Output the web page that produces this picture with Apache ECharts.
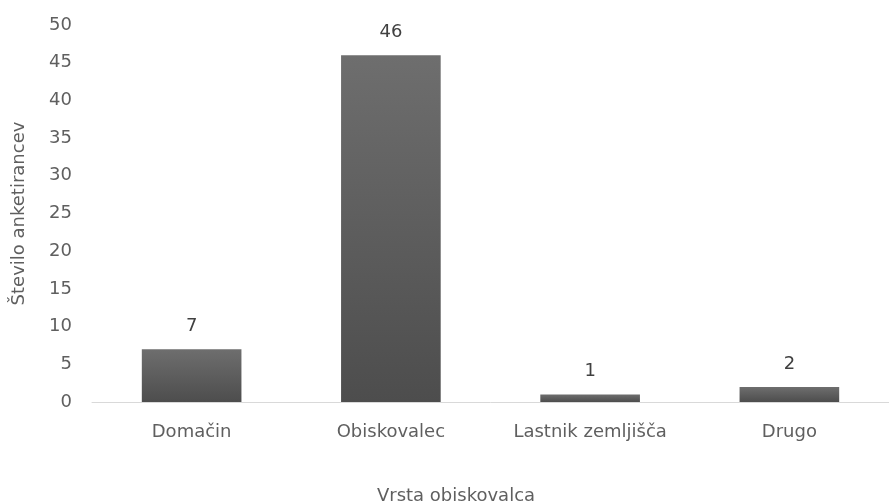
<!DOCTYPE html>
<html>
<head>
<meta charset="utf-8">
<script src="https://cdn.jsdelivr.net/npm/echarts@6/dist/echarts.min.js"></script>
<style>html,body{margin:0;padding:0;background:#fff}#c{width:889px;height:504px}</style>
</head>
<body>
<div id="c"></div>
<script>
const categories = ['Domačin', 'Obiskovalec', 'Lastnik zemljišča', 'Drugo'];
const values = [7, 46, 1, 2];
const yTicks = { min: 0, max: 50, interval: 5 };
const yTitle = 'Število anketirancev';
const xTitle = 'Vrsta obiskovalca';

const chart = echarts.init(document.getElementById('c'));
const font = '"DejaVu Sans", sans-serif';
const fs = 18;
chart.setOption({
  animation: false,
  backgroundColor: '#ffffff',
  title: {
    text: xTitle,
    left: 451, top: 482,
    textAlign: 'center',
    textStyle: { fontFamily: font, fontSize: fs, fontWeight: 'normal', color: '#5f5f5f' }
  },
  grid: { left: 92, right: -7, top: 25, bottom: 102 },
  xAxis: {
    type: 'category',
    data: categories,
    axisLine: { lineStyle: { color: '#d9d9d9', width: 1 } },
    axisTick: { show: false },
    axisLabel: { interval: 0, hideOverlap: false, margin: 21, fontFamily: font, fontSize: fs, color: '#5f5f5f' }
  },
  yAxis: {
    type: 'value',
    min: yTicks.min, max: yTicks.max, interval: yTicks.interval,
    name: yTitle,
    nameLocation: 'middle',
    nameGap: 64,
    nameTextStyle: { fontFamily: font, fontSize: fs, color: '#5f5f5f' },
    splitLine: { show: false },
    axisLine: { show: false },
    axisTick: { show: false },
    axisLabel: { margin: 20, fontFamily: font, fontSize: fs, color: '#5f5f5f' }
  },
  series: [{
    type: 'bar',
    data: values,
    barWidth: '50%',
    itemStyle: {
      color: new echarts.graphic.LinearGradient(0, 0, 0, 1, [
        { offset: 0, color: '#6e6e6e' },
        { offset: 1, color: '#4d4d4d' }
      ])
    },
    label: {
      show: true, position: 'top', distance: 14,
      fontFamily: font, fontSize: fs, color: '#404040'
    }
  }]
});
</script>
</body>
</html>
